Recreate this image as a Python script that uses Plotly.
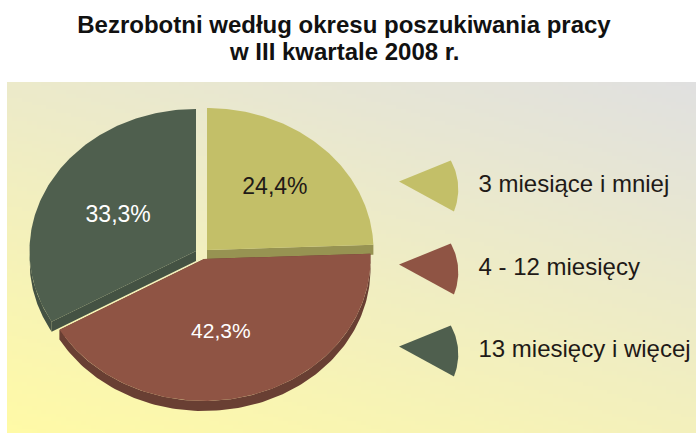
import numpy as np
import plotly.graph_objects as go

# Data
categories = ["3 miesiące i mniej", "4 - 12 miesięcy", "13 miesięcy i więcej"]
values = [24.4, 42.3, 33.3]
labels = ["24,4%", "42,3%", "33,3%"]
title_lines = ["Bezrobotni według okresu poszukiwania pracy", "w III kwartale 2008 r."]

# Styles and layout (pixel-based axes)
W, H = 696, 433
top_colors = ["#C3BF68", "#8F5444", "#4F5F4E"]
side_colors = ["#979352", "#693F33", "#445243"]
label_colors = ["#1F1A17", "#FFFFFF", "#FFFFFF"]
label_sizes = [23, 21, 23]
centers = [(207, 250), (204, 259), (196, 251)]   # exploded slice apexes
label_radius = [0.61, 0.52, 0.54]
label_nudge = [(-2.5, 1), (-7, 3), (0, 4)]
RX, RY, DEPTH = 166.5, 142, 10
FONT = "Liberation Sans, Arial, sans-serif"
legend_y = [181.5, 264.5, 346.5]

fig = go.Figure()

# Background gradient panel
bx = np.linspace(7, W, 141)
by = np.linspace(82, H, 91)
cx, cy = (bx[:-1] + bx[1:]) / 2, (by[:-1] + by[1:]) / 2
u, v = np.meshgrid((cx - 7) / (W - 7), (H - cy) / (H - 82))
fig.add_trace(go.Heatmap(
    x=bx, y=by, z=0.38 * u + 0.62 * v, zmin=0, zmax=1, showscale=False, hoverinfo="skip",
    colorscale=[[0, "#FFFAA6"], [1, "#E0E0E0"]],
))

cum = np.cumsum([0] + values) / sum(values) * 360


def arc(center, a0, a1, n=120):
    t = np.radians(np.linspace(a0, a1, n))
    return center[0] + RX * np.sin(t), center[1] - RY * np.cos(t)


def poly(x, y, color, name):
    fig.add_trace(go.Scatter(x=x, y=y, mode="lines", fill="toself", fillcolor=color,
                             line=dict(width=0, color=color), hoverinfo="skip",
                             name=name, showlegend=False))


# Extruded sides first
for i, cat in enumerate(categories):
    c, a0, a1 = centers[i], cum[i], cum[i + 1]
    for edge in (a0, a1):
        ex, ey = arc(c, edge, edge, 1)
        x = [c[0], ex[0], ex[0], c[0]]
        y = [c[1], ey[0], ey[0] + DEPTH, c[1] + DEPTH]
        poly(x, y, side_colors[i], cat)
    s0, s1 = max(a0, 90), min(a1, 270)
    if s1 > s0:
        ax, ay = arc(c, s0, s1)
        poly(np.r_[ax, ax[::-1]], np.r_[ay, ay[::-1] + DEPTH], side_colors[i], cat)

# Top faces
for i, cat in enumerate(categories):
    c = centers[i]
    ax, ay = arc(c, cum[i], cum[i + 1])
    poly(np.r_[c[0], ax, c[0]], np.r_[c[1], ay, c[1]], top_colors[i], cat)

# Value labels
for i, lab in enumerate(labels):
    mid = np.radians((cum[i] + cum[i + 1]) / 2)
    c = centers[i]
    fig.add_trace(go.Scatter(
        x=[c[0] + label_radius[i] * RX * np.sin(mid) + label_nudge[i][0]],
        y=[c[1] - label_radius[i] * RY * np.cos(mid) + label_nudge[i][1]],
        mode="text", text=[lab], textposition="middle center", hoverinfo="skip",
        textfont=dict(family=FONT, size=label_sizes[i], color=label_colors[i]), showlegend=False,
    ))

# Legend keys and text
for i, cat in enumerate(categories):
    a = np.radians(np.linspace(-22, 28.6, 30))
    r = np.linspace(55.8, 62.6, 30)
    kx, ky = 399 + r * np.cos(a), legend_y[i] + r * np.sin(a)
    poly(np.r_[399, kx, 399], np.r_[legend_y[i], ky, legend_y[i]], top_colors[i], cat)
    fig.add_trace(go.Scatter(
        x=[478.5], y=[legend_y[i] + 4.5], mode="text", text=[cat], textposition="middle right",
        hoverinfo="skip", textfont=dict(family=FONT, size=24, color="#1F1A17"), showlegend=False,
    ))

title_font = dict(family=FONT, size=24, color="#111111")
fig.update_layout(
    width=W, height=H, autosize=False, margin=dict(l=0, r=0, t=0, b=0),
    paper_bgcolor="white", plot_bgcolor="white", showlegend=False,
    title=dict(text="<b>" + title_lines[0] + "</b>", x=344 / W, xanchor="center",
               y=1 - 16 / H, yanchor="top", font=title_font),
    annotations=[dict(text="<b>" + title_lines[1] + "</b>", xref="paper", yref="paper",
                      x=344 / W, y=1 - 36 / H, xanchor="center", yanchor="top",
                      showarrow=False, font=title_font)],
    xaxis=dict(range=[0, W], visible=False, fixedrange=True),
    yaxis=dict(range=[H, 0], visible=False, fixedrange=True),
)
fig.write_html("out.html", config=dict(displayModeBar=False),
               post_script="document.body.style.margin='0';")
